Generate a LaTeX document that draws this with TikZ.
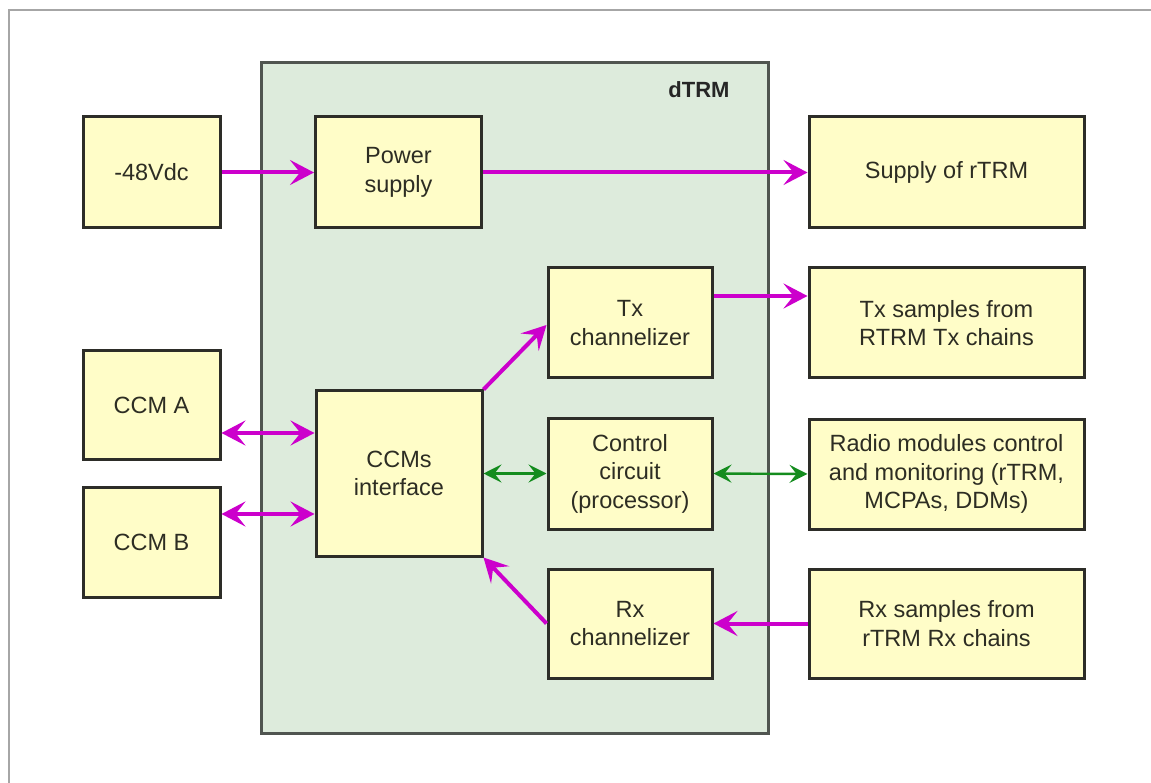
\documentclass[tikz,border=0pt]{standalone}
\usepackage{fontspec}
\setmainfont{Liberation Sans}
\usetikzlibrary{arrows.meta,shadows}
\definecolor{boxfill}{RGB}{255,253,200}
\definecolor{boxline}{RGB}{45,45,40}
\definecolor{contfill}{RGB}{221,235,220}
\definecolor{contline}{RGB}{80,85,80}
\definecolor{mag}{RGB}{204,0,204}
\definecolor{grn}{RGB}{20,140,30}
\definecolor{txt}{RGB}{45,45,35}
\tikzset{
  box/.style={draw=boxline, line width=3pt, fill=boxfill, inner sep=0pt, align=center,
    text=txt, font=\fontsize{23.5}{28.5}\selectfont,
    drop shadow={shadow xshift=1.2pt, shadow yshift=-1.2pt, fill=black!30, opacity=0.6}},
  container/.style={draw=contline, line width=3pt, fill=contfill, inner sep=0pt},
  maghead/.tip={Stealth[length=24pt, width=25pt, inset=10pt]},
  grnhead/.tip={Stealth[length=18pt, width=18pt, inset=7pt]},
  magarrow/.style={draw=mag, line width=4pt, -maghead},
  magboth/.style={draw=mag, line width=4pt, maghead-maghead},
  grnboth/.style={draw=grn, line width=2.4pt, grnhead-grnhead}
}
\begin{document}
\begin{tikzpicture}[x=1pt, y=-1pt]
\useasboundingbox (0,0) rectangle (1151,783);
\fill[white] (0,0) rectangle (1151,783);
\draw[black!35, line width=2pt] (9,783) -- (9,10) -- (1151,10);

\node[container, minimum width=507pt, minimum height=670pt] (dtrm) at (514.5,398) {};
\node[anchor=east, font=\bfseries\fontsize{22}{26}\selectfont, text=black!85] (dlabel) at (733,90) {dTRM};

\node[box, minimum width=137pt, minimum height=111pt] (v48) at (151.5,172.5) {-48Vdc};
\node[box, minimum width=166pt, minimum height=111pt] (ps) at (398.5,172.5) {Power\\supply};
\node[box, minimum width=275pt, minimum height=111pt] (sup) at (946.5,172.5) {Supply of rTRM};

\node[box, minimum width=164pt, minimum height=110pt] (tx) at (630,323) {Tx\\channelizer};
\node[box, minimum width=275pt, minimum height=110pt] (txs) at (946.5,323) {Tx samples from\\RTRM Tx chains};

\node[box, minimum width=137pt, minimum height=108pt] (ccma) at (151.5,405) {CCM A};
\node[box, minimum width=137pt, minimum height=110pt] (ccmb) at (151.5,542) {CCM B};
\node[box, minimum width=166pt, minimum height=165pt] (ccmi) at (399,473.5) {CCMs\\interface};

\node[box, minimum width=164pt, minimum height=111pt] (ctl) at (630,473.5) {Control\\circuit\\(processor)};
\node[box, minimum width=275pt, minimum height=110pt] (rad) at (946.5,474) {Radio modules control\\and monitoring (rTRM,\\MCPAs, DDMs)};

\node[box, minimum width=164pt, minimum height=109pt] (rx) at (630,623.5) {Rx\\channelizer};
\node[box, minimum width=275pt, minimum height=109pt] (rxs) at (946.5,623.5) {Rx samples from\\rTRM Rx chains};

% connector end points
\coordinate (ca) at ([yshift=-28pt]ccma.east);
\coordinate (cb) at ([yshift=28pt]ccmb.east);
\coordinate (txo) at ([yshift=27pt]tx.east);
\coordinate (txi) at ([yshift=-2pt]tx.west);

% connectors
\draw[magarrow] (v48.east) -- (ps.west);
\draw[magarrow] (ps.east) -- (sup.west);
\draw[magarrow] (txo) -- (txs.west |- txo);
\draw[magarrow] (ccmi.north east) -- (txi);
\draw[magarrow] (rx.west) -- (ccmi.south east);
\draw[magarrow] (rxs.west) -- (rx.east);
\draw[magboth] (ca) -- (ccmi.west |- ca);
\draw[magboth] (cb) -- (ccmi.west |- cb);
\draw[grnboth] (ccmi.east |- ctl.west) -- (ctl.west);
\draw[grnboth] (ctl.east) -- (rad.west);
\end{tikzpicture}
\end{document}
